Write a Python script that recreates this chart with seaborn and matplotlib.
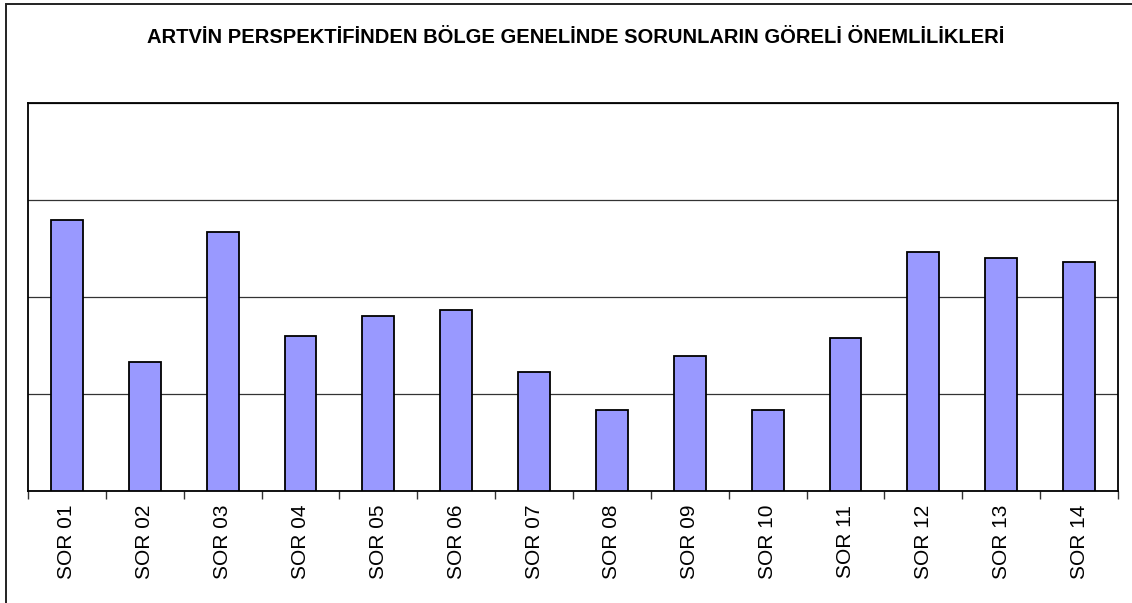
import matplotlib
matplotlib.use("Agg")
import matplotlib.pyplot as plt
from matplotlib.patches import Rectangle
from matplotlib.ticker import MultipleLocator
import seaborn as sns
import pandas as pd

# relative importance of problems (gridline step = 0.05)
categories = ["SOR 01", "SOR 02", "SOR 03", "SOR 04", "SOR 05", "SOR 06", "SOR 07",
              "SOR 08", "SOR 09", "SOR 10", "SOR 11", "SOR 12", "SOR 13", "SOR 14"]
values = [0.1395, 0.0665, 0.1335, 0.0800, 0.0900, 0.0932, 0.0612,
          0.0416, 0.0695, 0.0416, 0.0788, 0.1230, 0.1200, 0.1180]
title = "ARTVİN PERSPEKTİFİNDEN BÖLGE GENELİNDE SORUNLARIN GÖRELİ ÖNEMLİLİKLERİ"

df = pd.DataFrame({"sorun": categories, "deger": values})

sns.set_style("white")
plt.rcParams["font.family"] = ["Liberation Sans", "DejaVu Sans"]
plt.rcParams["text.color"] = "black"
plt.rcParams["xtick.color"] = "black"

fig = plt.figure(figsize=(11.32, 6.03), dpi=100)
ax = fig.add_axes([0.0247, 0.1857, 0.9629, 0.6435])

sns.barplot(data=df, x="sorun", y="deger", color="#9999FF", saturation=1,
            width=0.41, edgecolor="black", linewidth=1.3, ax=ax, zorder=3)

ax.set_xlim(-0.5, len(categories) - 0.5)
ax.set_ylim(0, 0.2)
ax.yaxis.set_major_locator(MultipleLocator(0.05))
ax.grid(axis="y", color="#333333", linewidth=0.9, zorder=0)
ax.set_axisbelow(True)
ax.tick_params(axis="y", left=False, labelleft=False)

# labels centred, ticks on category boundaries
ax.set_xticks(range(len(categories)))
ax.set_xticklabels(categories, rotation=90, fontsize=15, color="black")
ax.tick_params(axis="x", which="major", length=0, pad=10)
ax.set_xticks([i - 0.5 for i in range(len(categories) + 1)], minor=True)
ax.tick_params(axis="x", which="minor", bottom=True, length=6, width=1, color="#333333")
ax.set_xlabel("")
ax.set_ylabel("")

for s in ax.spines.values():
    s.set_visible(True)
    s.set_color("black")
    s.set_linewidth(1.3)

fig.text(0.5084, 0.9386, title, ha="center", va="center",
         fontsize=14.5, fontweight="bold", color="black")

fig.patches.append(Rectangle((0.0053, -0.1), 1.2, 0.9934 + 0.1, transform=fig.transFigure,
                             fill=False, edgecolor="#222222", linewidth=1.4))

fig.savefig("out.png", dpi=100, facecolor="white")
